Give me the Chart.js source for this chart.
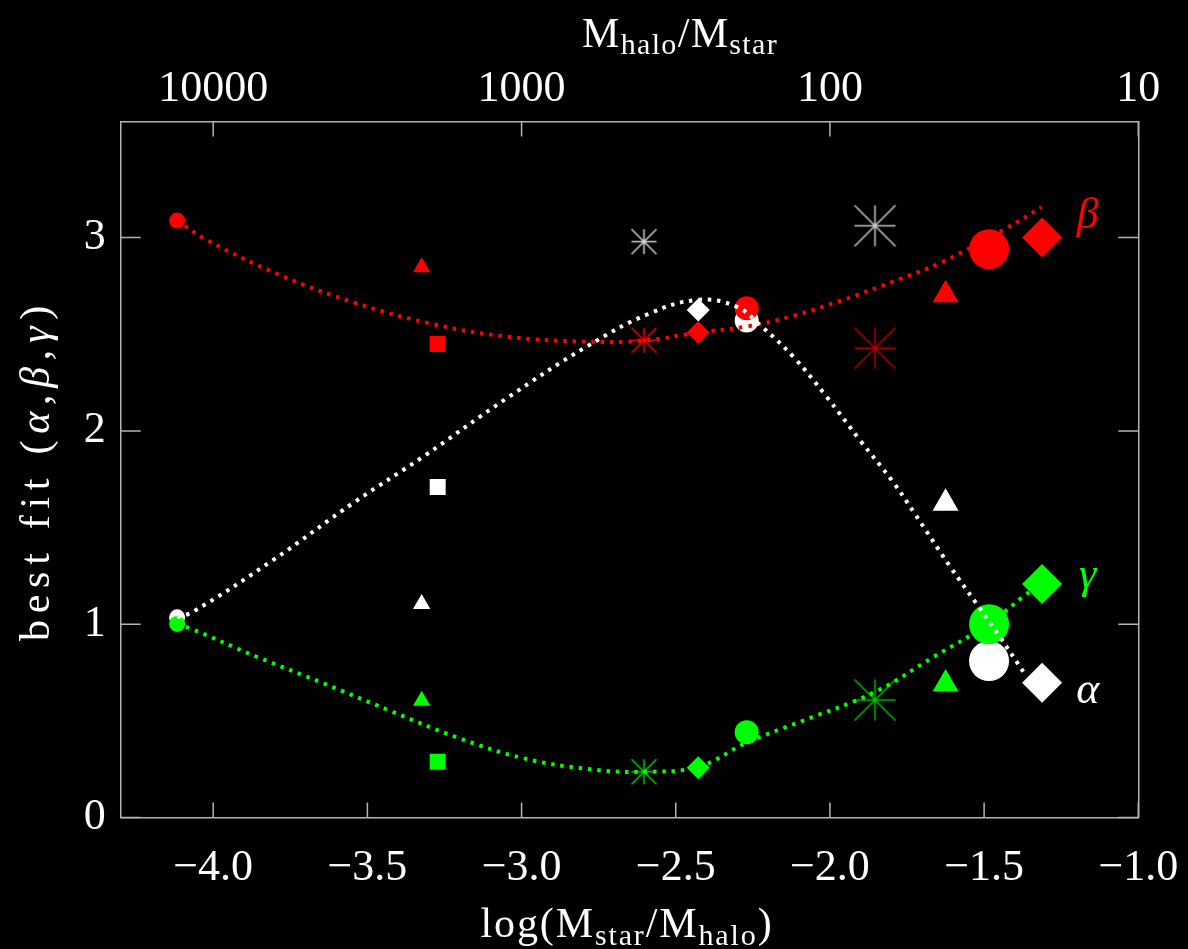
<!DOCTYPE html>
<html>
<head>
<meta charset="utf-8">
<script src="https://cdn.jsdelivr.net/npm/chart.js@4.4.1/dist/chart.umd.min.js"></script>
<style>
  html, body { margin: 0; padding: 0; background: #000; }
  #wrap { width: 1188px; height: 949px; }
</style>
</head>
<body>
<div id="wrap"><canvas id="fit" width="1188" height="949"></canvas></div>
<script>
// model groups, x = log(Mstar/Mhalo)
const groupX   = [-4.117, -3.324, -3.272, -2.603, -2.427, -2.270, -1.854, -1.625, -1.484, -1.312];
const alphaFit = [1.036, 1.105, 1.710, 2.979, 2.626, 2.571, 3.061, 1.626, 0.810, 0.698];
const betaFit  = [3.088, 2.847, 2.450, 2.469, 2.509, 2.635, 2.428, 2.704, 2.940, 3.000];
const gammaFit = [1.002, 0.605, 0.289, 0.237, 0.258, 0.441, 0.608, 0.691, 1.000, 1.208];

// dotted trend lines
const alphaLineX = [-4.117, -4.065, -3.805, -3.540, -3.319, -3.048, -2.789, -2.589, -2.427, -2.303, -2.227, -2.119, -2.011, -1.903, -1.795, -1.724, -1.611, -1.524, -1.449, -1.373];
const alphaLineY = [1.036, 1.065, 1.333, 1.634, 1.867, 2.169, 2.436, 2.605, 2.678, 2.643, 2.548, 2.384, 2.177, 1.953, 1.735, 1.570, 1.300, 1.105, 0.935, 0.755];
const betaLineX  = [-4.117, -4.021, -3.783, -3.535, -3.286, -3.048, -2.800, -2.605, -2.427, -2.270, -2.119, -1.957, -1.795, -1.633, -1.427, -1.314];
const betaLineY  = [3.088, 2.988, 2.806, 2.660, 2.552, 2.488, 2.462, 2.467, 2.509, 2.540, 2.595, 2.678, 2.772, 2.876, 3.049, 3.157];
const gammaLineX = [-4.117, -4.075, -3.859, -3.643, -3.427, -3.210, -2.994, -2.778, -2.616, -2.427, -2.270, -2.097, -1.854, -1.665, -1.487, -1.373, -1.314];
const gammaLineY = [1.000, 0.979, 0.832, 0.695, 0.553, 0.415, 0.307, 0.250, 0.237, 0.263, 0.388, 0.495, 0.650, 0.830, 1.000, 1.143, 1.212];

const xTicks   = [-4.0, -3.5, -3.0, -2.5, -2.0, -1.5, -1.0];
const topTicks = [-4, -3, -2, -1];
const yTicks   = [0, 1, 2, 3];

// marker look per group
const markerShape = ['circle', 'triangle', 'rect', 'ast', 'rectRot', 'circle', 'ast', 'triangle', 'circle', 'rectRot'];
const markerSize  = [8, 10, 11.3, 12.5, 11.5, 12, 20.5, 15, 20, 20];

const AXIS = '#b4b4b4';
const SERIF = 'Liberation Serif';

function asterisk(half, color) {
    const c = document.createElement('canvas');
    const s = Math.ceil(half * 2 + 4);
    c.width = s; c.height = s;
    const g = c.getContext('2d');
    const m = s / 2;
    g.strokeStyle = color;
    g.lineWidth = 1.5;
    g.beginPath();
    g.moveTo(m, m - half); g.lineTo(m, m + half);
    g.moveTo(m - half, m); g.lineTo(m + half, m);
    g.moveTo(m - half, m - half); g.lineTo(m + half, m + half);
    g.moveTo(m - half, m + half); g.lineTo(m + half, m - half);
    g.stroke();
    g.fillStyle = color;
    g.fillRect(m - 1.5, m - 1.5, 3, 3);
    return c;
}

function markers(label, values, fill, astSmall, astBig, order) {
    return {
        label: label,
        data: groupX.map((x, i) => ({x: x, y: values[i]})),
        showLine: false,
        pointStyle: markerShape.map((s, i) => s === 'ast' ? asterisk(markerSize[i], markerSize[i] > 15 ? astBig : astSmall) : s),
        pointRadius: markerSize,
        pointBackgroundColor: fill,
        pointBorderWidth: 0,
        order: order
    };
}

function trend(label, xs, ys, color, order) {
    return {
        label: label,
        data: xs.map((x, i) => ({x: x, y: ys[i]})),
        showLine: true,
        borderColor: color,
        borderWidth: 4,
        borderDash: [3.5, 5.8],
        borderCapStyle: 'butt',
        pointRadius: 0,
        tension: 0.4,
        order: order
    };
}

// tick marks pointing into the frame
const innerTicks = {
    id: 'innerTicks',
    afterDatasetsDraw(chart) {
        const {ctx, chartArea: a, scales} = chart;
        ctx.save();
        ctx.strokeStyle = AXIS;
        ctx.lineWidth = 1.5;
        ctx.beginPath();
        scales.x.ticks.forEach(t => { const p = scales.x.getPixelForValue(t.value); ctx.moveTo(p, a.bottom); ctx.lineTo(p, a.bottom - 15); });
        scales.x2.ticks.forEach(t => { const p = scales.x2.getPixelForValue(t.value); ctx.moveTo(p, a.top); ctx.lineTo(p, a.top + 15); });
        scales.y.ticks.forEach(t => { const p = scales.y.getPixelForValue(t.value); ctx.moveTo(a.left, p); ctx.lineTo(a.left + 20, p); });
        scales.y2.ticks.forEach(t => { const p = scales.y2.getPixelForValue(t.value); ctx.moveTo(a.right, p); ctx.lineTo(a.right - 20, p); });
        ctx.stroke();
        ctx.restore();
    }
};

// centred run of text pieces, stretched to the given width
function drawRich(ctx, parts, cx, y, width) {
    let total = 0, chars = 0;
    ctx.letterSpacing = '0px';
    parts.forEach(p => { ctx.font = p.font; p.w = ctx.measureText(p.text).width; total += p.w; chars += p.text.length; });
    const ls = width ? Math.max(0, (width - total) / chars) : 0;
    let x = cx - (total + ls * chars) / 2;
    parts.forEach(p => {
        ctx.font = p.font;
        ctx.letterSpacing = ls + 'px';
        ctx.fillText(p.text, x, y + (p.dy || 0));
        x += p.w + ls * p.text.length;
    });
    ctx.letterSpacing = '0px';
}

const big = '42px ' + SERIF;
const sub = '30px ' + SERIF;
const ital = 'italic 42px ' + SERIF;

// curve labels, data units
const curveLabels = [
    {text: '\u03b2', x: -1.164, y: 3.05, color: '#ff0000'},
    {text: '\u03b3', x: -1.164, y: 1.187, color: '#00ff00'},
    {text: '\u03b1', x: -1.164, y: 0.592, color: '#ffffff'}
];

const titles = {
    id: 'titles',
    afterDraw(chart) {
        const {ctx, scales} = chart;
        ctx.save();
        ctx.fillStyle = '#fff';
        ctx.textAlign = 'left';
        ctx.textBaseline = 'alphabetic';

        drawRich(ctx, [
            {text: 'M', font: big}, {text: 'halo', font: sub, dy: 7},
            {text: '/', font: big},
            {text: 'M', font: big}, {text: 'star', font: sub, dy: 7}
        ], 680, 47, 196);

        drawRich(ctx, [
            {text: 'log(', font: big},
            {text: 'M', font: big}, {text: 'star', font: sub, dy: 8},
            {text: '/', font: big},
            {text: 'M', font: big}, {text: 'halo', font: sub, dy: 8},
            {text: ')', font: big}
        ], 627, 937, 293);

        ctx.save();
        ctx.translate(49, 470);
        ctx.rotate(-Math.PI / 2);
        drawRich(ctx, [
            {text: 'best fit (', font: big},
            {text: '\u03b1', font: ital}, {text: ',', font: big},
            {text: '\u03b2', font: ital}, {text: ',', font: big},
            {text: '\u03b3', font: ital}, {text: ')', font: big}
        ], 0, 0, 342);
        ctx.restore();

        ctx.textAlign = 'center';
        ctx.font = 'italic 44px ' + SERIF;
        curveLabels.forEach(l => {
            ctx.fillStyle = l.color;
            ctx.fillText(l.text, scales.x.getPixelForValue(l.x), scales.y.getPixelForValue(l.y));
        });
        ctx.restore();
    }
};

const tickFont = {family: SERIF, size: 44};

// grid stays hidden; tickLength only spaces the labels off the frame
new Chart(document.getElementById('fit'), {
    type: 'scatter',
    data: {
        datasets: [
            trend('alpha fit', alphaLineX, alphaLineY, '#ffffff', 0),
            trend('beta fit', betaLineX, betaLineY, '#ff0000', 1),
            trend('gamma fit', gammaLineX, gammaLineY, '#00ff00', 2),
            markers('gamma', gammaFit, '#00ff00', '#00d800', '#00c000', 3),
            markers('beta', betaFit, '#ff0000', '#ff0000', '#b80000', 4),
            markers('alpha', alphaFit, '#ffffff', '#d0d0d0', '#c8c8c8', 5)
        ]
    },
    options: {
        responsive: false,
        animation: false,
        devicePixelRatio: 1,
        events: [],
        layout: {padding: 0, autoPadding: false},
        plugins: {legend: {display: false}, tooltip: {enabled: false}},
        scales: {
            x: {
                type: 'linear', position: 'bottom', min: -4.3, max: -1.0,
                afterBuildTicks: s => { s.ticks = xTicks.map(v => ({value: v})); },
                afterFit: s => { s.height = 131.4; },
                grid: {display: false, drawTicks: true, tickLength: 24},
                border: {display: true, color: AXIS, width: 1.5},
                ticks: {color: '#fff', font: tickFont, padding: 0, maxRotation: 0, autoSkip: false,
                    callback: v => v.toFixed(1).replace('-', '\u2212')}
            },
            x2: {
                type: 'linear', position: 'top', min: -4.3, max: -1.0,
                afterBuildTicks: s => { s.ticks = topTicks.map(v => ({value: v})); },
                afterFit: s => { s.height = 121.6; },
                grid: {display: false, drawTicks: true, tickLength: 6},
                border: {display: true, color: AXIS, width: 1.5},
                ticks: {color: '#fff', font: tickFont, padding: 0, maxRotation: 0, autoSkip: false,
                    callback: v => String(Math.round(Math.pow(10, -v)))}
            },
            y: {
                type: 'linear', position: 'left', min: 0, max: 3.6,
                afterBuildTicks: s => { s.ticks = yTicks.map(v => ({value: v})); },
                afterFit: s => { s.width = 120.7; },
                grid: {display: false, drawTicks: true, tickLength: 15},
                border: {display: true, color: AXIS, width: 1.5},
                ticks: {color: '#fff', font: tickFont, padding: 0, callback: v => String(v)}
            },
            y2: {
                type: 'linear', position: 'right', min: 0, max: 3.6,
                afterBuildTicks: s => { s.ticks = yTicks.map(v => ({value: v})); },
                afterFit: s => { s.width = 49.7; },
                grid: {display: false, drawTicks: false},
                border: {display: true, color: AXIS, width: 1.5},
                ticks: {display: false}
            }
        }
    },
    plugins: [innerTicks, titles]
});
</script>
</body>
</html>
